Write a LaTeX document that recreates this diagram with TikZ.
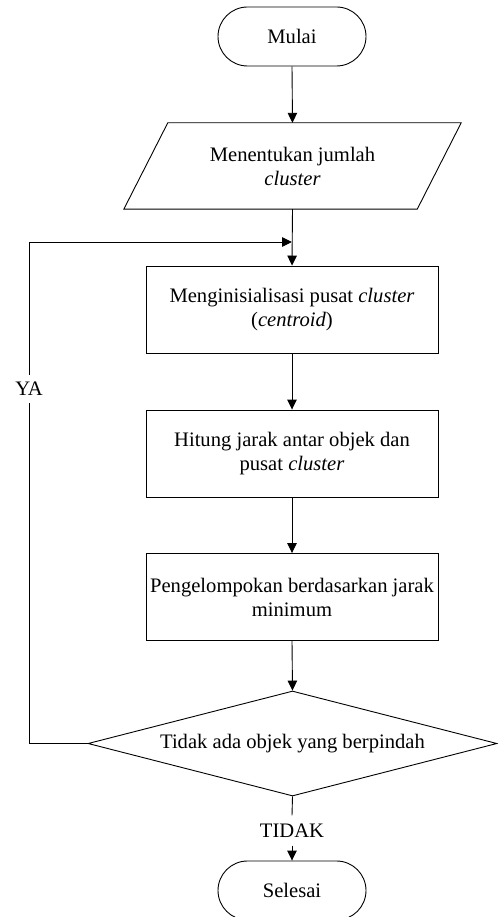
\documentclass[tikz,border=0pt]{standalone}
\usepackage{fontspec}
\setmainfont{Liberation Serif}
\usetikzlibrary{arrows.meta,shapes.geometric,calc}
\begin{document}
\begin{tikzpicture}[x=1pt,y=-1pt,
  every node/.style={font=\fontsize{20.6pt}{24pt}\selectfont, align=center},
  term/.style={draw, line width=0.9pt, rectangle, rounded corners=29.5pt, minimum width=148pt, minimum height=59pt, inner sep=0pt},
  procbox/.style={draw, line width=0.9pt, rectangle, minimum width=292pt, minimum height=87pt, inner sep=0pt},
  decbox/.style={draw, line width=0.9pt, diamond, minimum width=409pt, minimum height=105pt, inner sep=0pt},
  conn/.style={line width=0.9pt},
  arr/.style={conn, -{Triangle[length=10pt,width=9.5pt]}}
]
\useasboundingbox (0,0) rectangle (498,917);
\clip (0,0) rectangle (498,917);

\node[term] (start) at (292,36.5) {Mulai};

\node[minimum width=293pt, minimum height=86pt, inner sep=0pt] (io) at (292.5,166) {Menentukan jumlah\\\textit{cluster}};
\draw[conn] ($(io.north west)+(22,0)$) -- ($(io.north east)+(22,0)$) -- ($(io.south east)+(-22,0)$) -- ($(io.south west)+(-22,0)$) -- cycle;

\node[procbox] (b1) at (292,309.5) {Menginisialisasi pusat \textit{cluster}\\(\textit{centroid})};
\node[procbox] (b2) at (292,453.5) {Hitung jarak antar objek dan\\pusat \textit{cluster}};
\node[procbox] (b3) at (292,597) {Pengelompokan berdasarkan jarak\\minimum};

\node[decbox] (dec) at (292.5,743.5) {};
\node (dectext) at (dec.center) {Tidak ada objek yang berpindah};

\node[term] (stop) at (292,890.5) {Selesai};

\node[inner sep=0pt, minimum height=30pt] (tidak) at (292,830.5) {TIDAK};

\coordinate (join) at (292,242);
\coordinate (yl) at (29,242);

\draw[arr] (start.south) -- (io.north);
\draw[arr] (io.south) -- (b1.north);
\draw[arr] (b1.south) -- (b2.north);
\draw[arr] (b2.south) -- (b3.north);
\draw[arr] (b3.south) -- (dec.north);
\draw[arr] (dec.west) -| (yl) -- (join);
\draw[conn] (dec.south) -- (tidak.north);
\draw[arr] (tidak.south) -- (stop.north);

\node[fill=white, inner xsep=2pt, inner ysep=7pt] (ya) at (29,389) {YA};
\end{tikzpicture}
\end{document}
